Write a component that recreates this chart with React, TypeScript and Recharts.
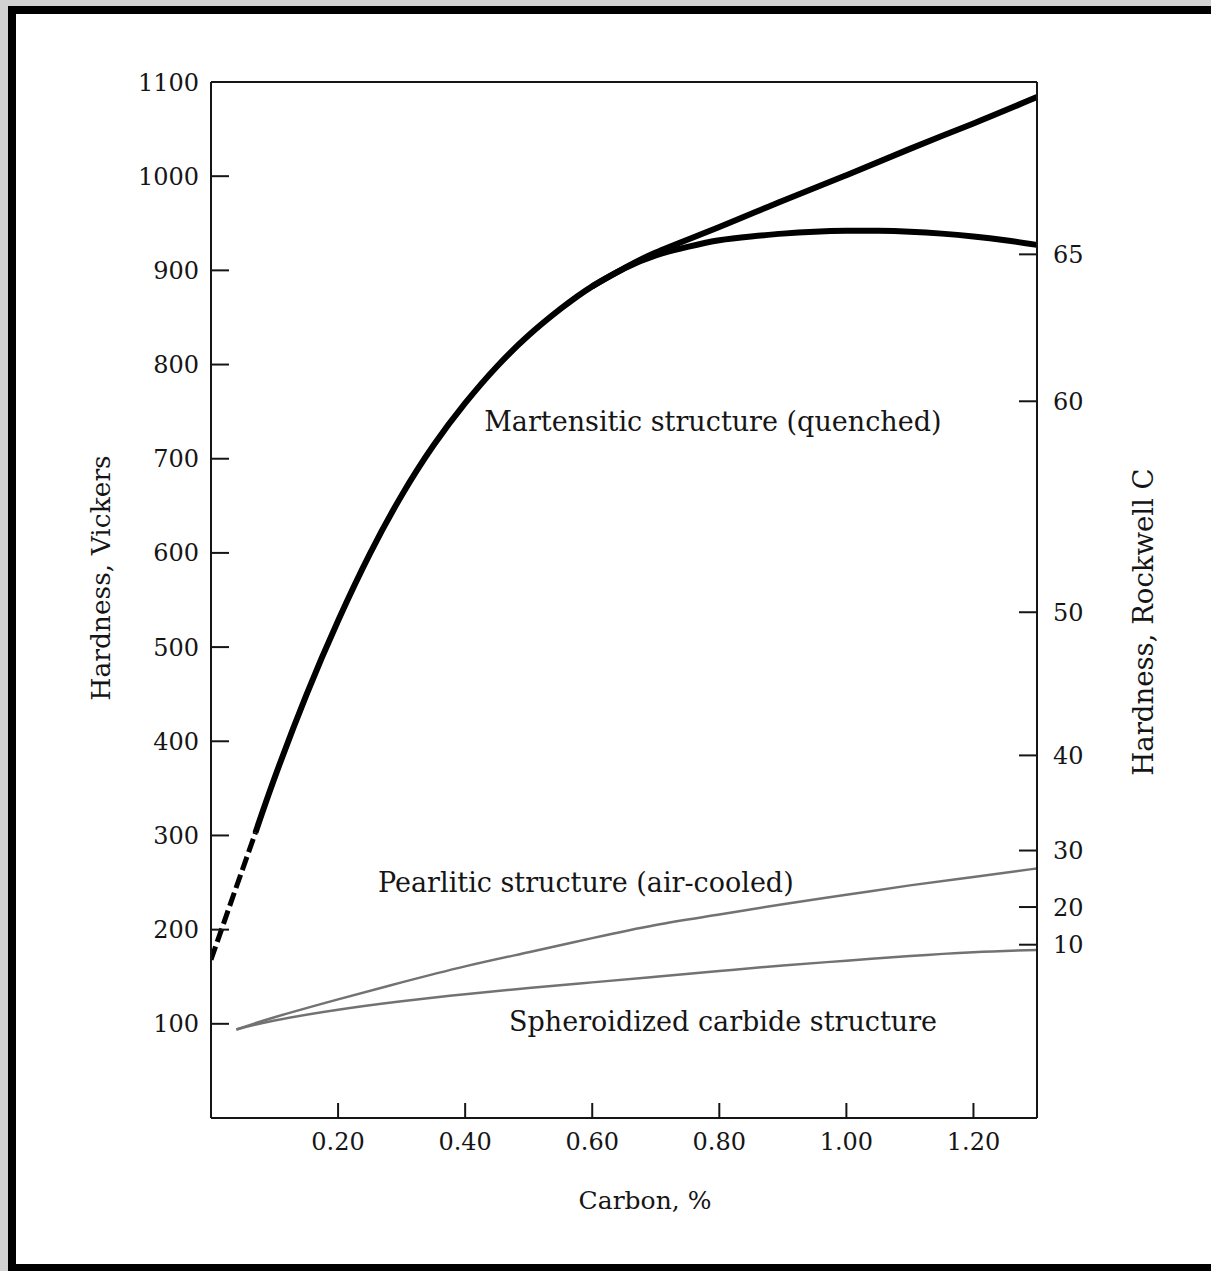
import React from 'react';
import { LineChart, Line, XAxis, YAxis, ReferenceLine, ReferenceDot } from 'recharts';

// ---- axis ticks ----
const carbonTicks = [0.2, 0.4, 0.6, 0.8, 1.0, 1.2];
const vickersTicks = [100, 200, 300, 400, 500, 600, 700, 800, 900, 1000, 1100];
const rockwellLabels = [10, 20, 30, 40, 50, 60, 65];
const rockwellAsVickers = [184, 224, 284, 385, 537, 761, 917];

// ---- series (carbon %, Vickers hardness) ----
const martensiteDashedC = [0, 0.035, 0.07];
const martensiteDashedHV = [168, 236, 303];

const martensiteUpperC = [0.07, 0.1, 0.15, 0.2, 0.25, 0.3, 0.35, 0.4, 0.45, 0.5, 0.55, 0.6, 0.65, 0.7, 0.8, 0.9, 1.0, 1.1, 1.2, 1.3];
const martensiteUpperHV = [303, 361, 449, 528, 599, 661, 714, 759, 798, 831, 859, 883, 902, 919, 946, 974, 1001, 1029, 1056, 1084];

const martensiteLowerC = [0.6, 0.65, 0.7, 0.75, 0.8, 0.85, 0.9, 0.95, 1.0, 1.05, 1.1, 1.15, 1.2, 1.25, 1.3];
const martensiteLowerHV = [883, 902, 916, 925, 932, 936, 939, 941, 942, 942, 941, 939, 936, 932, 927];

const pearliteC = [0.04, 0.1, 0.2, 0.3, 0.4, 0.5, 0.6, 0.7, 0.8, 0.9, 1.0, 1.1, 1.2, 1.3];
const pearliteHV = [94, 107, 126, 144, 161, 176, 191, 205, 216, 227, 237, 247, 256, 265];

const spheroidC = [0.04, 0.1, 0.2, 0.3, 0.4, 0.5, 0.6, 0.7, 0.8, 0.9, 1.0, 1.1, 1.2, 1.3];
const spheroidHV = [94, 103.5, 115, 124, 131.5, 138, 144, 150, 156, 162, 167, 172, 176, 178.5];

// ---- annotations ----
const annotationText = ['Martensitic structure (quenched)', 'Pearlitic structure (air-cooled)', 'Spheroidized carbide structure'];
const annotationC = [0.43, 0.263, 0.469];
const annotationHV = [739, 250, 102];

const toPoints = (cs: number[], vs: number[]) => cs.map((c, i) => ({ c, v: vs[i] }));

const FONT = 'DejaVu Serif';
const INK = '#151515';

const tickStyle = { fill: INK, fontSize: 24, fontFamily: FONT };

const leftLabel = (props: any) => {
  const { x, y, height } = props.viewBox;
  const cx = x + 9;
  const cy = y + height / 2 - 22;
  return (
    <text x={cx} y={cy} transform={`rotate(-90 ${cx} ${cy})`} textAnchor="middle" dominantBaseline="central" fill={INK} fontSize={26.5} fontFamily={FONT}>
      Hardness, Vickers
    </text>
  );
};

const rightLabel = (props: any) => {
  const { x, y, height } = props.viewBox;
  const cx = x + 106;
  const cy = y + height / 2 + 22;
  return (
    <text x={cx} y={cy} transform={`rotate(-90 ${cx} ${cy})`} textAnchor="middle" dominantBaseline="central" fill={INK} fontSize={27.5} fontFamily={FONT}>
      Hardness, Rockwell C
    </text>
  );
};

const bottomLabel = (props: any) => {
  const { x, y, width } = props.viewBox;
  const cx = x + width / 2 + 21;
  const cy = y + 82;
  return (
    <text x={cx} y={cy} textAnchor="middle" dominantBaseline="central" fill={INK} fontSize={25} fontFamily={FONT}>
      Carbon, %
    </text>
  );
};

const makeAnnotation = (text: string) => (props: any) => {
  const { x, y } = props.viewBox;
  return (
    <text x={x} y={y} textAnchor="start" dominantBaseline="central" fill={INK} fontSize={27} fontFamily={FONT}>
      {text}
    </text>
  );
};

export default function App() {
  return (
    <div style={{ position: 'absolute', left: 0, top: 0, width: 1211, height: 1271, overflow: 'hidden', background: '#d2d2d2' }}>
      <div style={{ position: 'absolute', left: 8, top: 6, width: 1300, height: 1250, border: '8px solid #000', background: '#fff' }} />
      <div style={{ position: 'absolute', left: 0, top: 0 }}>
        <LineChart width={1211} height={1271} margin={{ top: 82, right: 74, bottom: 93, left: 91 }}>
          <XAxis
            dataKey="c"
            type="number"
            domain={[0, 1.3]}
            allowDataOverflow
            ticks={carbonTicks}
            interval={0}
            tickFormatter={(v: number) => v.toFixed(2)}
            tickSize={-15}
            tickMargin={30}
            height={60}
            axisLine={{ stroke: INK, strokeWidth: 2 }}
            tickLine={{ stroke: INK, strokeWidth: 2 }}
            tick={tickStyle}
            label={{ content: bottomLabel }}
          />
          <YAxis
            yAxisId="left"
            type="number"
            domain={[0, 1100]}
            allowDataOverflow
            ticks={vickersTicks}
            interval={0}
            width={120}
            tickSize={-18}
            tickMargin={30}
            axisLine={{ stroke: INK, strokeWidth: 2 }}
            tickLine={{ stroke: INK, strokeWidth: 2 }}
            tick={tickStyle}
            label={{ content: leftLabel }}
          />
          <YAxis
            yAxisId="right"
            orientation="right"
            type="number"
            domain={[0, 1100]}
            allowDataOverflow
            ticks={rockwellAsVickers}
            interval={0}
            tickFormatter={(v: number) => String(rockwellLabels[rockwellAsVickers.indexOf(v)])}
            width={100}
            tickSize={-18}
            tickMargin={34}
            axisLine={{ stroke: INK, strokeWidth: 2 }}
            tickLine={{ stroke: INK, strokeWidth: 2 }}
            tick={tickStyle}
            label={{ content: rightLabel }}
          />
          <ReferenceLine yAxisId="left" y={1100} stroke={INK} strokeWidth={2} />

          <Line yAxisId="left" data={toPoints(spheroidC, spheroidHV)} dataKey="v" type="natural" stroke="#727272" strokeWidth={2.5} dot={false} activeDot={false} isAnimationActive={false} />
          <Line yAxisId="left" data={toPoints(pearliteC, pearliteHV)} dataKey="v" type="natural" stroke="#727272" strokeWidth={2.5} dot={false} activeDot={false} isAnimationActive={false} />
          <Line yAxisId="left" data={toPoints(martensiteDashedC, martensiteDashedHV)} dataKey="v" type="linear" stroke="#000" strokeWidth={5} strokeDasharray="14 5" dot={false} activeDot={false} isAnimationActive={false} />
          <Line yAxisId="left" data={toPoints(martensiteUpperC, martensiteUpperHV)} dataKey="v" type="natural" stroke="#000" strokeWidth={6} dot={false} activeDot={false} isAnimationActive={false} />
          <Line yAxisId="left" data={toPoints(martensiteLowerC, martensiteLowerHV)} dataKey="v" type="natural" stroke="#000" strokeWidth={6} dot={false} activeDot={false} isAnimationActive={false} />

          {annotationText.map((t, i) => (
            <ReferenceDot key={t} yAxisId="left" x={annotationC[i]} y={annotationHV[i]} r={0} fill="none" stroke="none" label={{ content: makeAnnotation(t) }} />
          ))}
        </LineChart>
      </div>
    </div>
  );
}
